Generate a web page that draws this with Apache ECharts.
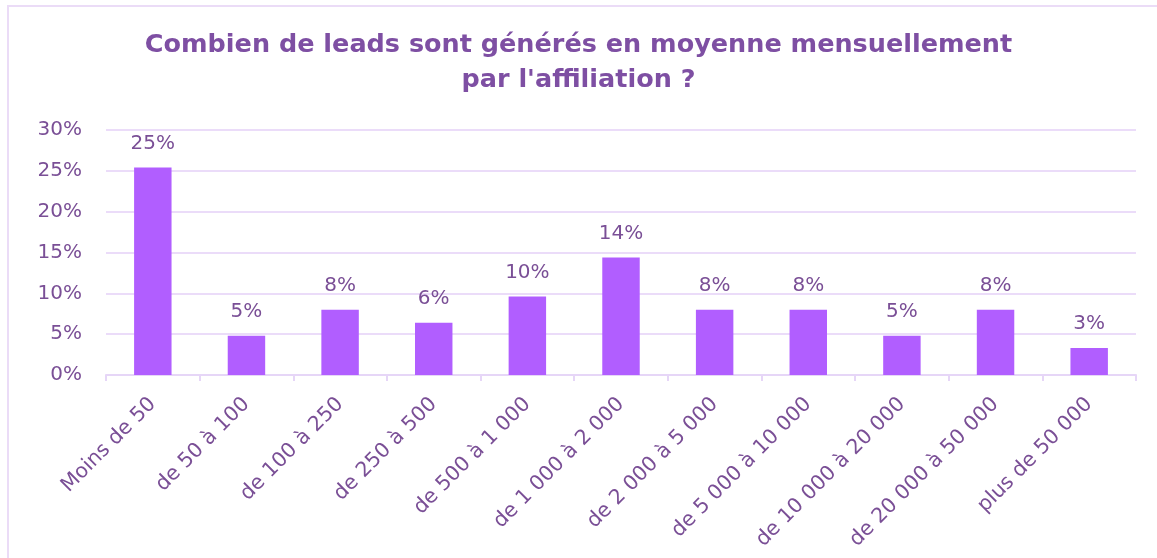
<!DOCTYPE html>
<html>
<head>
<meta charset="utf-8">
<script src="https://cdn.jsdelivr.net/npm/echarts@6/dist/echarts.min.js"></script>
<style>
  html, body { margin: 0; padding: 0; background: #fff; }
  #chart { width: 1157px; height: 558px; }
</style>
</head>
<body>
<div id="chart"></div>
<script>
var categories = ['Moins de 50', 'de 50 à 100', 'de 100 à 250', 'de 250 à 500', 'de 500 à 1 000',
  'de 1 000 à 2 000', 'de 2 000 à 5 000', 'de 5 000 à 10 000', 'de 10 000 à 20 000',
  'de 20 000 à 50 000', 'plus de 50 000'];
var values = [25.4, 4.8, 8.0, 6.4, 9.6, 14.4, 8.0, 8.0, 4.8, 8.0, 3.3];
var yTicks = [0, 5, 10, 15, 20, 25, 30];

var myChart = echarts.init(document.getElementById('chart'));
var font = '"DejaVu Sans", sans-serif';

var option = {
  backgroundColor: '#fff',
  graphic: [{
    type: 'rect',
    shape: { x: 8, y: 6, width: 1200, height: 600 },
    style: { fill: 'none', stroke: '#ebdcf7', lineWidth: 2 }
  }],
  title: {
    text: 'Combien de leads sont générés en moyenne mensuellement\npar l\'affiliation ?',
    left: 'center',
    top: 23,
    textStyle: {
      color: '#7e4fa3',
      fontFamily: font,
      fontWeight: 'bold',
      fontSize: 25.5,
      lineHeight: 35
    }
  },
  grid: {
    left: 106,
    right: 21,
    top: 130,
    bottom: 183
  },
  xAxis: {
    type: 'category',
    data: categories,
    axisLine: { lineStyle: { color: '#e6d6f7', width: 2 } },
    axisTick: { show: true, length: 6, lineStyle: { color: '#e6d6f7', width: 2 } },
    axisLabel: {
      interval: 0,
      rotate: 45,
      margin: 26,
      color: '#7a4f96',
      fontFamily: font,
      fontSize: 20.5
    }
  },
  yAxis: {
    type: 'value',
    min: 0,
    max: 30,
    interval: 5,
    axisLine: { show: false },
    axisTick: { show: false },
    splitLine: { lineStyle: { color: '#ebdcf9', width: 2 } },
    axisLabel: {
      margin: 24,
      color: '#7a4f96',
      fontFamily: font,
      fontSize: 20,
      formatter: function (v) { return yTicks.indexOf(v) >= 0 ? v + '%' : ''; }
    }
  },
  series: [{
    type: 'bar',
    data: values,
    barWidth: '40%',
    itemStyle: { color: '#b15eff' },
    label: {
      show: true,
      position: 'top',
      distance: 14,
      color: '#7a4f96',
      fontFamily: font,
      fontSize: 20,
      formatter: function (p) { return Math.round(p.value) + '%'; }
    }
  }]
};

myChart.setOption(option);
window.addEventListener('resize', function () {
  myChart.resize();
});
</script>
</body>
</html>
